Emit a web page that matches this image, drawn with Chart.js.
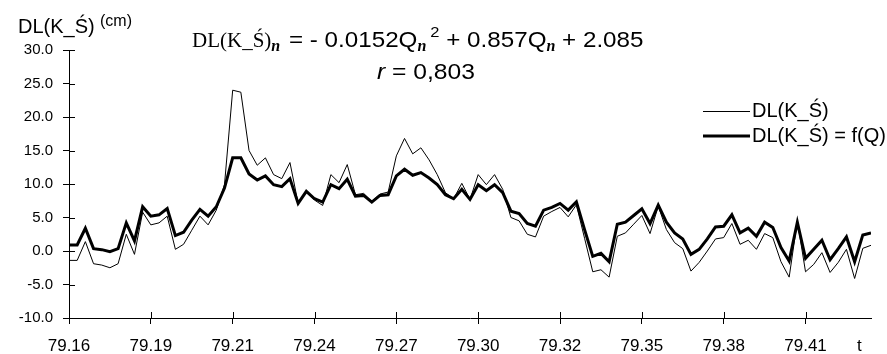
<!DOCTYPE html>
<html lang="pl">
<head>
<meta charset="UTF-8">
<title>DL(K_Ś)</title>
<script src="https://cdn.jsdelivr.net/npm/chart.js"></script>
<style>
  body { margin: 0; background: #fff; }
  #wrap { width: 887px; height: 354px; }
</style>
</head>
<body>
<div id="wrap"><canvas id="c" width="887" height="354"></canvas></div>
<script>
// x tick labels (every 10th point)
var xTickLabels = ['79.16', '79.19', '79.21', '79.24', '79.27', '79.30', '79.32', '79.35', '79.38', '79.41'];

// DL(K_Ś) measured
var dl = [-1.4, -1.4, 1.4, -1.9, -2.1, -2.5, -1.9, 2.5, -0.5, 5.8,
          3.9, 4.2, 5.2, 0.25, 1.0, 3.1, 5.2, 3.9, 6.1, 9.9,
          24.0, 23.7, 15.0, 12.8, 13.9, 11.4, 10.8, 13.2, 7.1, 8.9,
          7.6, 6.8, 11.4, 10.2, 12.9, 8.4, 8.6, 7.4, 8.5, 8.8,
          14.2, 16.8, 14.5, 15.4, 13.6, 11.4, 8.7, 7.8, 10.1, 7.7,
          11.4, 9.9, 11.4, 9.2, 5.0, 4.5, 2.5, 2.1, 5.2, 5.9,
          6.5, 5.1, 6.9, 1.9, -3.1, -2.8, -3.9, 2.2, 2.7, 4.0,
          5.3, 2.6, 6.7, 3.2, 1.25, 0.35, -3.0, -1.7, 0.0, 1.8,
          2.0, 4.1, 1.0, 1.6, 0.25, 2.6, 2.0, -1.6, -3.9, 4.5,
          -3.1, -2.0, -0.25, -3.2, -1.7, 0.25, -4.1, 0.4, 0.85];

// DL(K_Ś) = f(Q)
var fq = [0.9, 0.9, 3.4, 0.35, 0.2, -0.1, 0.35, 4.2, 1.5, 6.6,
          5.2, 5.4, 6.35, 2.3, 2.8, 4.6, 6.2, 5.2, 6.6, 9.4,
          13.9, 13.9, 11.5, 10.6, 11.2, 9.9, 9.6, 10.8, 7.1, 8.9,
          7.8, 7.3, 9.9, 9.3, 10.7, 8.2, 8.3, 7.3, 8.3, 8.4,
          11.2, 12.2, 11.3, 11.7, 10.9, 9.9, 8.4, 7.8, 9.2, 7.7,
          9.9, 9.0, 9.9, 8.7, 5.95, 5.6, 4.1, 3.7, 6.1, 6.5,
          7.1, 6.1, 7.35, 3.2, -0.8, -0.35, -1.6, 4.0, 4.3, 5.3,
          6.3, 4.1, 6.85, 4.3, 2.7, 1.8, -0.5, 0.25, 1.8, 3.6,
          3.7, 5.4, 2.7, 3.4, 2.2, 4.3, 3.5, 0.5, -1.5, 4.3,
          -1.1, 0.25, 1.6, -1.3, 0.35, 2.1, -1.6, 2.4, 2.7];

var seriesNames = ['DL(K_Ś)', 'DL(K_Ś) = f(Q)'];

var SANS = "Arial, 'Liberation Sans', sans-serif";
var SERIF = "'Times New Roman', 'Liberation Serif', serif";

function toPoints(arr) {
    return arr.map(function (v, i) { return { x: i, y: v }; });
}

// draws text pieces one after another (sx = horizontal stretch)
function drawRun(ctx, x, y, parts) {
    parts.forEach(function (p) {
        var sx = p.sx || 1;
        ctx.font = p.font;
        ctx.save();
        ctx.translate(x, y + (p.dy || 0));
        ctx.scale(sx, 1);
        ctx.fillText(p.t, 0, 0);
        ctx.restore();
        x += ctx.measureText(p.t).width * sx + (p.gap || 0);
    });
    return x;
}

var extras = {
    id: 'extras',
    afterDraw: function (chart) {
        var ctx = chart.ctx;
        var area = chart.chartArea;
        var xs = chart.scales.x, ys = chart.scales.y;
        ctx.save();
        ctx.strokeStyle = '#000';
        ctx.lineWidth = 1;

        // tick marks crossing into the plot
        ctx.beginPath();
        ys.ticks.forEach(function (t) {
            var py = Math.round(ys.getPixelForValue(t.value)) + 0.5;
            ctx.moveTo(Math.round(area.left) + 0.5, py);
            ctx.lineTo(Math.round(area.left) + 6, py);
        });
        xs.ticks.forEach(function (t) {
            var px = Math.round(xs.getPixelForValue(t.value)) + 0.5;
            ctx.moveTo(px, Math.round(area.bottom) + 0.5);
            ctx.lineTo(px, Math.round(area.bottom) - 6);
        });
        ctx.stroke();

        ctx.fillStyle = '#000';
        ctx.textBaseline = 'alphabetic';
        ctx.textAlign = 'left';

        // axis titles
        ctx.font = '20px ' + SANS;
        ctx.fillText('DL(K_Ś)', 18, 33);
        ctx.font = '16px ' + SANS;
        ctx.fillText('(cm)', 100, 26);
        ctx.font = '17px ' + SANS;
        ctx.fillText('t', 857, 351);

        // equation
        var sub = 'italic bold 16px ' + SERIF;
        var big = '22px ' + SANS;
        var k = 1.1;
        drawRun(ctx, 192, 47, [
            { t: 'DL(K_Ś)', font: '21px ' + SERIF },
            { t: 'n', font: sub, dy: 4, gap: 2 },
            { t: ' = - 0.0152Q', font: big, sx: k },
            { t: 'n', font: sub, dy: 4, gap: 4 },
            { t: '2', font: '15px ' + SANS, dy: -10, sx: k },
            { t: ' + 0.857Q', font: big, sx: k },
            { t: 'n', font: sub, dy: 4 },
            { t: ' + 2.085', font: big, sx: k }
        ]);
        drawRun(ctx, 377, 79, [
            { t: 'r', font: 'italic 22px ' + SANS, sx: 1.12 },
            { t: ' = 0,803', font: big, sx: 1.12 }
        ]);

        // legend
        ctx.beginPath();
        ctx.lineWidth = 1;
        ctx.moveTo(703, 111.5);
        ctx.lineTo(750, 111.5);
        ctx.stroke();
        ctx.beginPath();
        ctx.lineWidth = 3;
        ctx.moveTo(703, 136);
        ctx.lineTo(750, 136);
        ctx.stroke();
        ctx.font = '20px ' + SANS;
        ctx.textBaseline = 'middle';
        ctx.fillText(seriesNames[0], 752, 111);
        ctx.fillText(seriesNames[1], 752, 136);
        ctx.restore();
    }
};

new Chart(document.getElementById('c'), {
    type: 'line',
    data: {
        datasets: [{
            label: seriesNames[0],
            data: toPoints(dl),
            borderColor: '#000',
            borderWidth: 1,
            pointRadius: 0,
            tension: 0
        }, {
            label: seriesNames[1],
            data: toPoints(fq),
            borderColor: '#000',
            borderWidth: 3,
            pointRadius: 0,
            tension: 0
        }]
    },
    options: {
        responsive: false,
        animation: false,
        layout: { padding: { left: 0, right: 16, top: 50, bottom: 0 } },
        plugins: {
            legend: { display: false },
            tooltip: { enabled: false }
        },
        scales: {
            x: {
                type: 'linear',
                min: 0,
                max: dl.length - 1,
                border: { color: '#000', width: 1 },
                grid: { drawOnChartArea: false, color: '#000', tickLength: 6 },
                afterFit: function (s) { s.height = 36; },
                ticks: {
                    stepSize: 10,
                    includeBounds: false,
                    maxRotation: 0,
                    autoSkip: false,
                    padding: 12,
                    color: '#000',
                    font: { family: SANS, size: 17 },
                    callback: function (v) { return xTickLabels[v / 10]; }
                }
            },
            y: {
                min: -10,
                max: 30,
                border: { color: '#000', width: 1 },
                grid: { drawOnChartArea: false, color: '#000', tickLength: 6 },
                afterFit: function (s) { s.width = 69; },
                ticks: {
                    stepSize: 5,
                    padding: 10,
                    color: '#000',
                    font: { family: SANS, size: 15 },
                    callback: function (v) { return v.toFixed(1); }
                }
            }
        }
    },
    plugins: [extras]
});
</script>
</body>
</html>
